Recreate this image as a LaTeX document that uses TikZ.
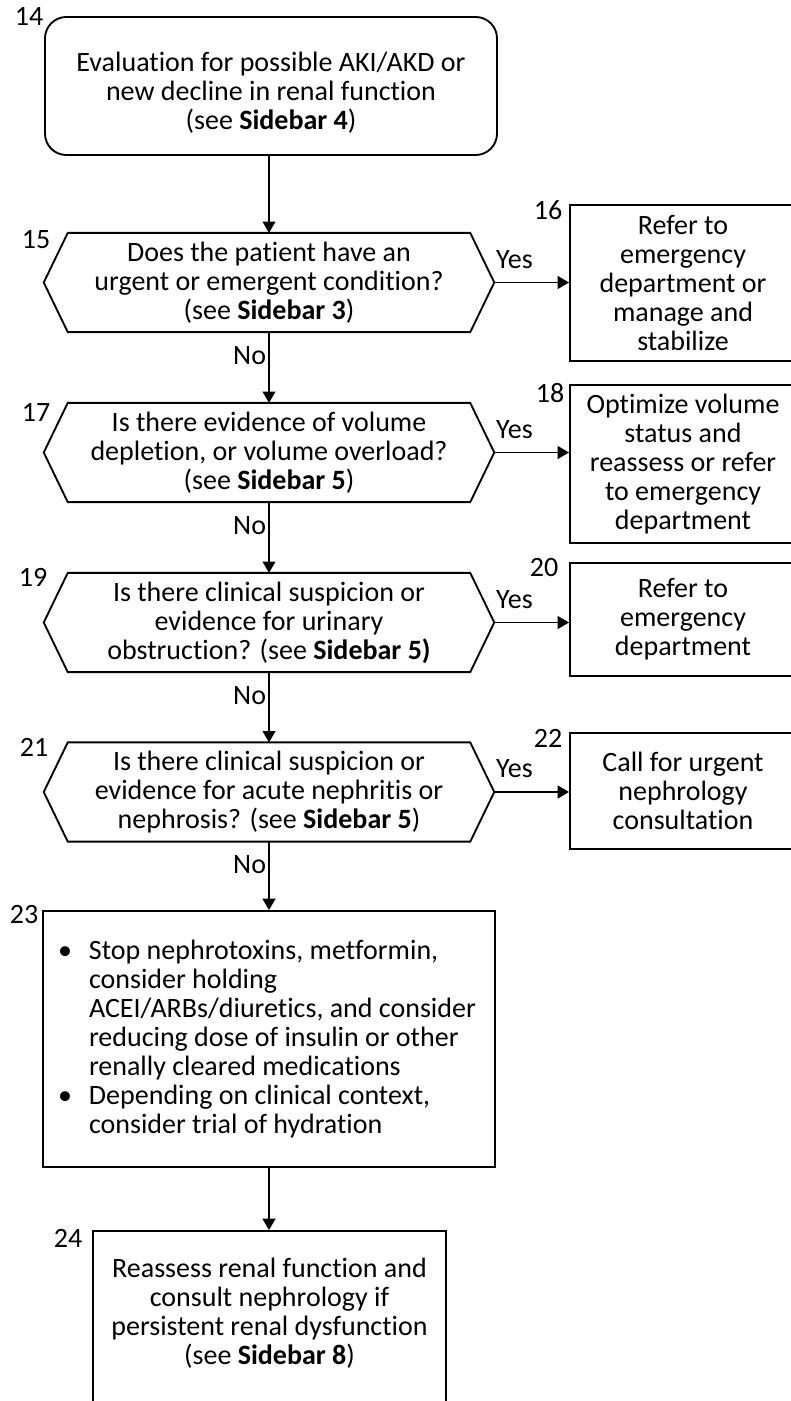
\documentclass[tikz,border=0pt]{standalone}
\usepackage{fontspec}
\setmainfont{Carlito}[Ligatures=NoCommon]
\usetikzlibrary{arrows.meta}

\begin{document}
\begin{tikzpicture}[x=0.75pt, y=-0.75pt,
    every node/.style={font=\fontsize{21pt}{21.75pt}\selectfont},
    box/.style={draw, line width=1.4pt, align=center, inner sep=0pt},
    ques/.style={align=center, inner sep=0pt, minimum width=337.5pt, minimum height=74pt},
    arr/.style={line width=1.4pt, -{Triangle[width=9.5pt, length=8.5pt]}},
    yes/.style={above=10pt, inner sep=0pt, pos=0.27},
    no/.style={left=1.5pt, inner sep=0pt, pos=0.33}]

  \useasboundingbox (0,0) rectangle (790,1401);

  % starting point
  \node[box, rounded corners=16pt, minimum width=339pt, minimum height=103.5pt] (e14) at (271,86)
    {\rule{0pt}{24pt}Evaluation for possible AKI/AKD or\\ new decline in renal function\\ (see \textbf{Sidebar 4})};

  % the four questions
  \node[ques] (q15) at (269,282.5)
    {Does the patient have an\\ urgent or emergent condition?\\ (see \textbf{Sidebar 3})};
  \node[ques] (q17) at (269,452.5)
    {Is there evidence of volume\\ depletion, or volume overload?\\ (see \textbf{Sidebar 5})};
  \node[ques] (q19) at (269,622.5)
    {Is there clinical suspicion or\\ evidence for urinary\\ obstruction? (see \textbf{Sidebar 5)}};
  \node[ques] (q21) at (269,792)
    {Is there clinical suspicion or\\ evidence for acute nephritis or\\ nephrosis? (see \textbf{Sidebar 5})};
  % hexagon outline round each question
  \foreach \q in {q15,q17,q19,q21}
    \draw[line width=1.4pt] (\q.west) -- ([xshift=18pt]\q.north west) -- ([xshift=-18pt]\q.north east)
      -- (\q.east) -- ([xshift=-18pt]\q.south east) -- ([xshift=18pt]\q.south west) -- cycle;

  % what to do on yes
  \node[box, minimum width=169.5pt, minimum height=117pt] (r16) at (683,283)
    {Refer to\\ emergency\\ department or\\ manage and\\ stabilize};
  \node[box, minimum width=169.5pt, minimum height=118.5pt] (r18) at (683,464)
    {Optimize volume\\ status and\\ reassess or refer\\ to emergency\\ department};
  \node[box, minimum width=169.5pt, minimum height=84.75pt] (r20) at (683,619.5)
    {Refer to\\ emergency\\ department};
  \node[box, minimum width=169.5pt, minimum height=87pt] (r22) at (683,791)
    {Call for urgent\\ nephrology\\ consultation};

  % steps at the end
  \node[box, align=flush left, inner xsep=11.25pt, text width=316.5pt, minimum height=192pt] (a23) at (269,1039)
    {\makebox[23.25pt][l]{\textbullet}Stop nephrotoxins, metformin,\\
     \hspace*{23.25pt}consider holding\\
     \hspace*{23.25pt}ACEI/ARBs/diuretics, and consider\\
     \hspace*{23.25pt}reducing dose of insulin or other\\
     \hspace*{23.25pt}renally cleared medications\\
     \makebox[23.25pt][l]{\textbullet}Depending on clinical context,\\
     \hspace*{23.25pt}consider trial of hydration};
  \node[box, minimum width=264.75pt, minimum height=134.25pt] (a24) at (269.5,1320.5)
    {Reassess renal function and\\ consult nephrology if\\ persistent renal dysfunction\\ (see \textbf{Sidebar 8})\\[-8.5pt]\mbox{}};

  % step numbers
  \node (n14) at (29,16) {14};
  \node (n15) at (36,240) {15};
  \node (n16) at (548,210) {16};
  \node (n17) at (36,412) {17};
  \node (n18) at (550,393) {18};
  \node (n19) at (33,577) {19};
  \node (n20) at (544,568) {20};
  \node (n21) at (34,747) {21};
  \node (n22) at (548,738) {22};
  \node (n23) at (24,915) {23};
  \node (n24) at (68,1238) {24};

  % arrows down
  \draw[arr] (e14.south -| q15.north) -- (q15.north);
  \draw[arr] (q15.south) -- (q17.north) node[no] (no15) {No};
  \draw[arr] (q17.south) -- (q19.north) node[no] (no17) {No};
  \draw[arr] (q19.south) -- (q21.north) node[no] (no19) {No};
  \draw[arr] (q21.south) -- (a23.north) node[no] (no21) {No};
  \draw[arr] (a23.south) -- (a23.south |- a24.north);

  % arrows right
  \draw[arr] (q15.east) -- (q15.east -| r16.west) node[yes] (yes15) {Yes};
  \draw[arr] (q17.east) -- (q17.east -| r18.west) node[yes] (yes17) {Yes};
  \draw[arr] (q19.east) -- (q19.east -| r20.west) node[yes] (yes19) {Yes};
  \draw[arr] (q21.east) -- (q21.east -| r22.west) node[yes] (yes21) {Yes};

\end{tikzpicture}
\end{document}
